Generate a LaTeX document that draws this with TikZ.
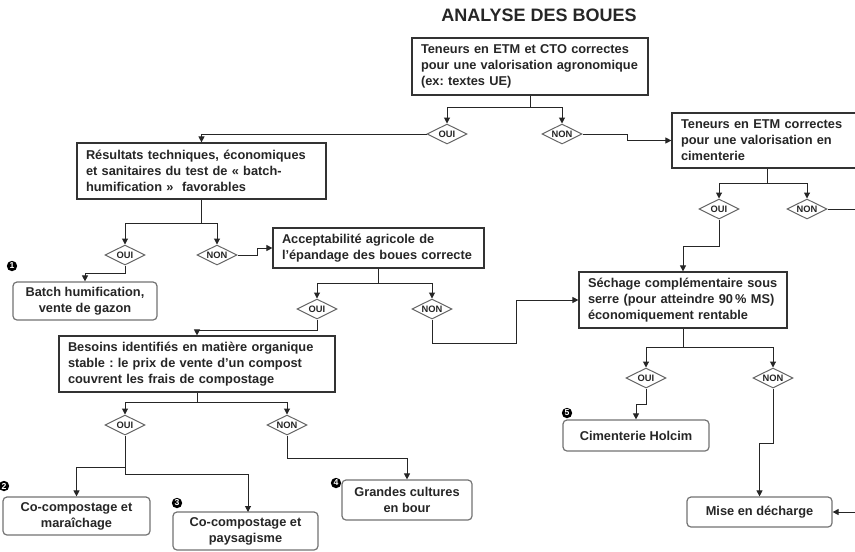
\documentclass[tikz,border=0pt]{standalone}
\usepackage{fontspec}
\setmainfont{Liberation Sans}
\usetikzlibrary{shapes.geometric,arrows.meta}
\begin{document}
\frenchspacing
\begin{tikzpicture}[x=0.75pt,y=-0.75pt,
  txt/.style={font=\frenchspacing\bfseries\fontsize{9.6}{12}\selectfont, text=black!85},
  dec/.style={txt, rectangle, draw=black!80, line width=0.9pt, align=left, inner xsep=6.75pt, inner ysep=0pt, fill=white},
  outbox/.style={txt, rectangle, rounded corners=3pt, draw=black!55, line width=0.9pt, align=center, inner sep=0pt, fill=white},
  dia/.style={diamond, shape aspect=2, draw=black!60, line width=0.75pt, minimum width=30pt, minimum height=15pt, inner sep=0pt, fill=white, font=\bfseries\fontsize{7}{8}\selectfont, text=black!85},
  con/.style={draw=black!85, line width=0.75pt},
  arr/.style={con, -{Triangle[length=4.5pt,width=4.5pt]}},
  badge/.style={circle, fill=black, inner sep=0pt, minimum size=7.8pt, text=white, font=\bfseries\fontsize{6.5}{7}\selectfont}
]
\clip (0,0) rectangle (855,551);
\fill[white] (0,0) rectangle (855,551);

% title
\node[font=\bfseries\fontsize{13.5}{15}\selectfont, text=black!85] (title) at (539,15) {ANALYSE DES BOUES};

% decision boxes
\node[dec, text width=163.5pt, minimum height=42.75pt] (b1) at (530,66.5)
  {\mbox{Teneurs en ETM et CTO correctes}\\\mbox{pour une valorisation agronomique}\\\mbox{(ex: textes UE)}};
\node[dec, text width=173.25pt, minimum height=42pt] (b2) at (201.5,171)
  {\mbox{Résultats techniques, économiques}\\\mbox{et sanitaires du test de « batch-}\\\mbox{humification »\ \ favorables}};
\node[dec, text width=129pt, minimum height=41.25pt] (b3) at (767,140.5)
  {\mbox{Teneurs en ETM correctes}\\\mbox{pour une valorisation en}\\\mbox{cimenterie}};
\node[dec, text width=144.75pt, minimum height=30pt] (b5) at (378.5,248)
  {\mbox{Acceptabilité agricole de}\\\mbox{l’épandage des boues correcte}};
\node[dec, text width=142.5pt, minimum height=42pt] (b4) at (683,300)
  {\mbox{Séchage complémentaire sous}\\\mbox{serre (pour atteindre 90\,\% MS)}\\\mbox{économiquement rentable}};
\node[dec, text width=193.5pt, minimum height=42pt] (b6) at (197,364)
  {\mbox{Besoins identifiés en matière organique}\\\mbox{stable : le prix de vente d’un compost}\\\mbox{couvrent les frais de compostage}};

% outcome boxes
\node[outbox, minimum width=108pt, minimum height=28.5pt] (o1) at (85,301) {Batch humification,\\vente de gazon};
\node[outbox, minimum width=110.25pt, minimum height=28.5pt] (o2) at (76.5,516) {Co-compostage et\\maraîchage};
\node[outbox, minimum width=108.75pt, minimum height=28.5pt] (o3) at (245.5,531) {Co-compostage et\\paysagisme};
\node[outbox, minimum width=97.5pt, minimum height=30pt] (o4) at (407,500) {Grandes cultures\\en bour};
\node[outbox, minimum width=109.5pt, minimum height=23.25pt] (o5) at (636,435.5) {Cimenterie Holcim};
\node[outbox, minimum width=108.75pt, minimum height=22.5pt] (o6) at (759.5,512) {Mise en décharge};

% diamonds
\node[dia] (d1o) at (447,134) {OUI};
\node[dia] (d1n) at (562,134) {NON};
\node[dia] (d2o) at (125,255) {OUI};
\node[dia] (d2n) at (217,255) {NON};
\node[dia] (d3o) at (719,209) {OUI};
\node[dia] (d3n) at (807,209) {NON};
\node[dia] (d4o) at (317,309) {OUI};
\node[dia] (d4n) at (432,309) {NON};
\node[dia] (d5o) at (646,378) {OUI};
\node[dia] (d5n) at (773,378) {NON};
\node[dia] (d6o) at (125,425) {OUI};
\node[dia] (d6n) at (287,425) {NON};

% badges
\node[badge] (n1) at (12,266) {1};
\node[badge] (n2) at (4,486) {2};
\node[badge] (n3) at (177,503) {3};
\node[badge] (n4) at (336,483) {4};
\node[badge] (n5) at (567,413) {5};

% stems from boxes to diamonds
\draw[arr] (b1.south) -- (530,107) -| (d1o.north);
\draw[arr] (530,107) -| (d1n.north);
\draw[arr] (b2.south) -- (201.5,223) -| (d2o.north);
\draw[arr] (201.5,223) -| (d2n.north);
\draw[arr] (b3.south) -- (767,183) -| (d3o.north);
\draw[arr] (767,183) -| (d3n.north);
\draw[arr] (b5.south) -- (378.5,283) -| (d4o.north);
\draw[arr] (378.5,283) -| (d4n.north);
\draw[arr] (b4.south) -- (683,347) -| (d5o.north);
\draw[arr] (683,347) -| (d5n.north);
\draw[arr] (b6.south) -- (197,402) -| (d6o.north);
\draw[arr] (197,402) -| (d6n.north);

% branches
\draw[arr] (d1o.west) -| (b2.north);
\draw[arr] (d1n.east) -- (627,134) |- (b3.west);
\draw[arr] (d3o.south) -- (719,246) -| (b4.north);
\draw[arr] (d3n.east) -- (880,209) |- (o6.east);
\draw[arr] (d2o.south) -- (125,273) -| (o1.north);
\draw[arr] (d2n.east) -- (257,255) |- (b5.west);
\draw[arr] (d4o.south) -- (317,330) -| (b6.north);
\draw[arr] (d4n.south) |- (516,343) |- (b4.west);
\draw[arr] (d5o.south) -- (646,404) -| (o5.north);
\draw[arr] (d5n.south) -- (773,443) -| (o6.north);
\draw[arr] (d6o.south) -- (125,467) -| (o2.north);
\draw[arr] (125,467) -- (125,474) -| (248,512);
\draw[arr] (d6n.south) -- (287,458) -| (o4.north);
\end{tikzpicture}
\end{document}
